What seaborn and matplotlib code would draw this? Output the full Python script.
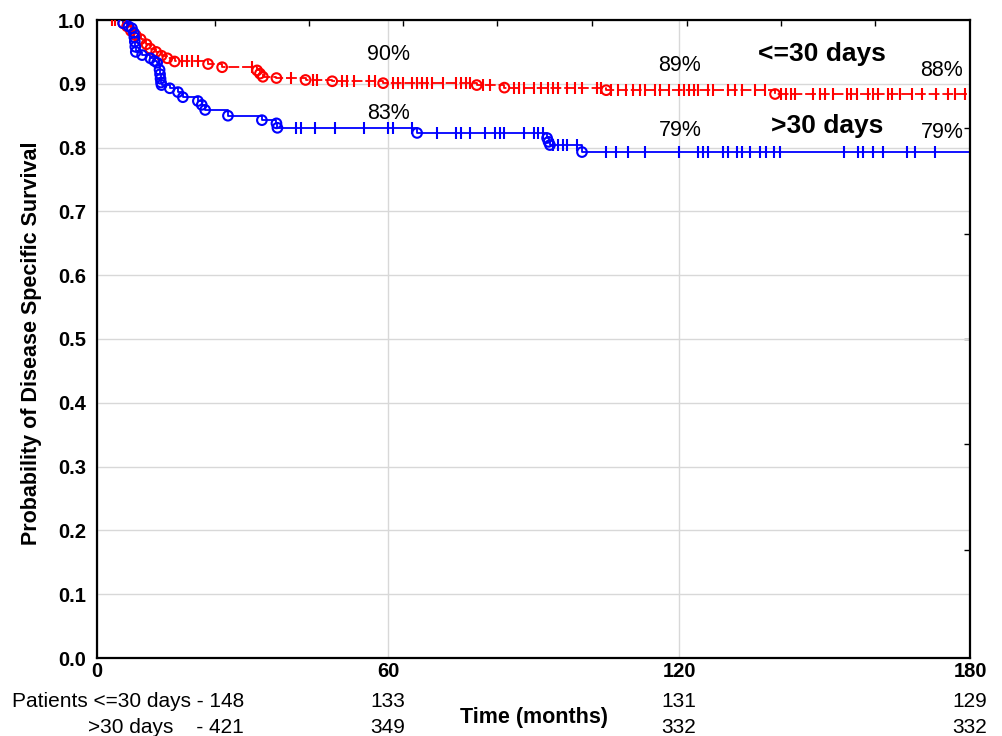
import numpy as np
import pandas as pd
import seaborn as sns
import matplotlib.pyplot as plt
from matplotlib.transforms import blended_transform_factory

# ------------------------------------------------------------------
# Data
# ------------------------------------------------------------------
# <=30 days group (red): event times (months) and survival after each event
short_event_t = [5.4, 6.2, 7.0, 8.0, 9.0, 10.2, 11.0, 12.2, 13.3, 14.5, 16.0,
                 22.9, 25.8, 33.0, 33.6, 34.2, 37.0, 43.0, 48.5, 59.0,
                 78.3, 84.0, 105.0, 139.8]
short_event_s = [0.995, 0.990, 0.983, 0.976, 0.970, 0.962, 0.955, 0.950, 0.944, 0.940, 0.935,
                 0.931, 0.926, 0.921, 0.916, 0.911, 0.909, 0.906, 0.904, 0.901,
                 0.898, 0.894, 0.890, 0.884]
short_censor_t = [3.0, 3.8, 17.5, 18.5, 19.5, 20.8, 32.0, 40.0, 44.5, 45.3, 50.5, 51.5,
                  53.0, 56.0, 57.3, 61, 62, 63, 65, 66, 67, 68, 69, 71.3, 74, 75, 76, 77,
                  79.6, 81, 86, 87, 88, 90, 91.5, 93, 94, 95, 97, 98.5, 100, 103, 104,
                  106, 107.5, 109, 110.5, 112, 113, 115, 116, 118, 120, 121, 122, 123,
                  124, 126, 127, 130, 131.5, 133, 135.7, 137.7, 141, 142, 143, 144,
                  147.6, 149, 150, 151.8, 154.6, 155.5, 156.7, 159, 160, 161, 163, 164,
                  165.6, 168, 170, 173, 175.5, 177, 179]

# >30 days group (blue)
long_event_t = [5.4, 6.5, 7.2, 7.6, 7.7, 7.8, 7.9, 8.0, 9.3, 11.0, 11.8, 12.4,
                12.9, 13.0, 13.1, 13.2, 13.3, 15.0, 16.7, 17.7, 20.8, 21.6, 22.3,
                27.0, 34.0, 37.0, 37.2, 66.0, 92.8, 93.1, 93.4, 100.0]
long_event_s = [0.995, 0.990, 0.987, 0.980, 0.973, 0.966, 0.958, 0.950, 0.945, 0.940, 0.936, 0.933,
                0.922, 0.915, 0.908, 0.902, 0.898, 0.893, 0.887, 0.879, 0.873, 0.867, 0.859,
                0.850, 0.843, 0.838, 0.831, 0.823, 0.815, 0.809, 0.804, 0.793]
long_censor_t = [41, 42, 45, 49, 55, 60, 61, 65, 70, 74, 75, 77, 80, 82, 83, 84, 88,
                 90, 91, 92, 94, 95, 96, 97, 99, 105, 107, 109.5, 113, 120, 124, 125,
                 126, 129, 130, 132, 133, 134.6, 136.7, 138, 139.5, 140.8, 154, 157,
                 158, 160, 162, 167, 168.6, 172.8]

x_ticks = [0, 60, 120, 180]
risk_short = [148, 133, 131, 129]
risk_long = [421, 349, 332, 332]
pct_short = ["90%", "89%", "88%"]
pct_long = ["83%", "79%", "79%"]

RED = "#ff0000"
BLUE = "#0000ff"
T_MAX = 180


def step_frame(ev_t, ev_s):
    t = [0.0] + list(ev_t) + [T_MAX]
    s = [1.0] + list(ev_s) + [ev_s[-1]]
    return pd.DataFrame({"t": t, "s": s})


def surv_at(times, ev_t, ev_s):
    idx = np.searchsorted(np.asarray(ev_t), np.asarray(times), side="right")
    return np.r_[1.0, ev_s][idx]


sns.set_style("white")
plt.rcParams["font.family"] = ["Liberation Sans", "DejaVu Sans"]
plt.rcParams["text.color"] = "black"
plt.rcParams["axes.labelcolor"] = "black"

fig = plt.figure(figsize=(10.02, 7.36), dpi=100)
ax = fig.add_axes([97 / 1002, 1 - 658 / 736, 873 / 1002, 638 / 736])

# grid first so curves sit on top
ax.set_axisbelow(True)
ax.grid(True, color="#d8d8d8", linewidth=1.0)

# step curves
sns.lineplot(data=step_frame(short_event_t, short_event_s), x="t", y="s", ax=ax,
             color=RED, linewidth=1.3, drawstyle="steps-post", estimator=None,
             sort=False, linestyle=(0, (6, 1.6)))
sns.lineplot(data=step_frame(long_event_t, long_event_s), x="t", y="s", ax=ax,
             color=BLUE, linewidth=1.3, drawstyle="steps-post", estimator=None,
             sort=False)

# events: open circles
for ev_t, ev_s, col in [(short_event_t, short_event_s, RED),
                        (long_event_t, long_event_s, BLUE)]:
    sns.scatterplot(x=ev_t, y=ev_s, ax=ax, marker="o", s=48, color=col,
                    facecolor="none", edgecolor=col, linewidth=1.5, zorder=3)

# censored: vertical ticks
for c_t, ev_t, ev_s, col in [(short_censor_t, short_event_t, short_event_s, RED),
                             (long_censor_t, long_event_t, long_event_s, BLUE)]:
    sns.scatterplot(x=c_t, y=surv_at(c_t, ev_t, ev_s), ax=ax, marker="|",
                    s=80, color=col, linewidth=1.5, zorder=3)

ax.set_xlim(0, T_MAX)
ax.set_ylim(0, 1)
ax.set_xticks(x_ticks)
ax.set_xticklabels([str(v) for v in x_ticks], fontweight="bold", fontsize=14.5)
ax.set_yticks(np.arange(0, 1.01, 0.1))
ax.set_yticklabels([f"{v:.1f}" for v in np.arange(0, 1.01, 0.1)],
                   fontweight="bold", fontsize=14.5)
ax.tick_params(axis="x", direction="in", length=4, width=1, pad=3,
               color="black", labelcolor="black")
ax.tick_params(axis="y", direction="in", length=4, width=1, pad=8,
               color="black", labelcolor="black")

for sp in ax.spines.values():
    sp.set_color("black")
    sp.set_linewidth(1.6)

# inner ticks on top and right edges
top = ax.secondary_xaxis("top")
top.set_xticks([24.3, 43.7, 63.1, 82.5, 102.1, 121.6, 141.0, 160.4])
top.set_xticklabels([])
top.tick_params(direction="in", length=4, width=1, color="black")
top.spines["top"].set_visible(False)
right = ax.secondary_yaxis("right")
right.set_yticks([0.17, 0.335, 0.5, 0.665, 0.83])
right.set_yticklabels([])
right.tick_params(direction="in", length=4, width=1, color="black")
right.spines["right"].set_visible(False)

ax.set_ylabel("Probability of Disease Specific Survival", fontsize=15.5,
              fontweight="bold", va="center")
ax.yaxis.set_label_coords(-0.0745, 0.494)
ax.set_xlabel("Time (months)", fontsize=15.5, fontweight="bold", va="center")
ax.xaxis.set_label_coords(0.5, -0.094)

# percentages at 60 / 120 / 180 months
pct_x = [60, 120.2, 174.2]
short_y = [0.950, 0.933, 0.924]
long_y = [0.857, 0.831, 0.828]
for x, y, txt in zip(pct_x, short_y, pct_short):
    ax.text(x, y, txt, fontsize=15.5, ha="center", va="center_baseline")
for x, y, txt in zip(pct_x, long_y, pct_long):
    ax.text(x, y, txt, fontsize=15.5, ha="center", va="center_baseline")

ax.text(149.5, 0.951, "<=30 days", fontsize=19, fontweight="bold",
        ha="center", va="center_baseline")
ax.text(150.5, 0.837, ">30 days", fontsize=19, fontweight="bold",
        ha="center", va="center_baseline")

# patients at risk table
fig.text(12 / 1002, 1 - 707 / 736, f"Patients <=30 days - {risk_short[0]}",
         fontsize=15, ha="left", va="baseline")
fig.text(88 / 1002, 1 - 733 / 736, f">30 days    - {risk_long[0]}",
         fontsize=15, ha="left", va="baseline")
trans = blended_transform_factory(ax.transData, fig.transFigure)
for t, a, b in zip(x_ticks[1:], risk_short[1:], risk_long[1:]):
    fig.text(t, 1 - 707 / 736, str(a), fontsize=15, ha="center",
             va="baseline", transform=trans)
    fig.text(t, 1 - 733 / 736, str(b), fontsize=15, ha="center",
             va="baseline", transform=trans)

fig.savefig("out.png", dpi=100)
